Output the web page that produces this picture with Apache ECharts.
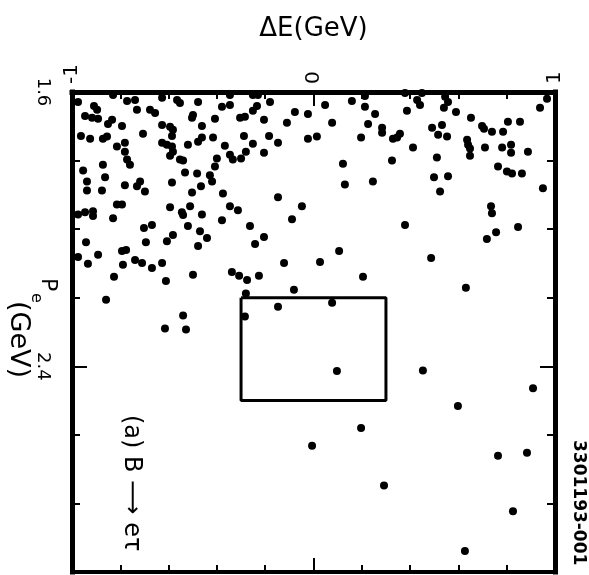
<!DOCTYPE html>
<html lang="en">
<head>
<meta charset="utf-8">
<style>
  html, body { margin: 0; height: 100%; background: #fff; }
  #container { width: 589px; height: 575px; }
</style>
</head>
<body>
<div id="container"></div>
<script src="https://cdn.jsdelivr.net/npm/echarts@6.0.0/dist/echarts.min.js"></script>
<script>
// axis ranges and labelled ticks
var deltaERange = [-1, 1];
var peRange = [1.6, 3.0];
var xTickLabels = ['-1', '0', '1'];
var yTickLabels = ['1.6', '2.4'];

// signal box corners [dE, Pe]
var signalBox = [[-0.3, 2.2], [0.3, 2.2], [0.3, 2.5], [-0.3, 2.5], [-0.3, 2.2]];

// candidate events [dE (GeV), Pe (GeV)]
var eventsLeft = [
  [-0.975, 1.629], [-0.909, 1.641], [-0.896, 1.652], [-0.772, 1.626], [-0.739, 1.623],
  [-0.731, 1.652], [-0.677, 1.652], [-0.656, 1.661], [-0.627, 1.617], [-0.565, 1.623],
  [-0.553, 1.632], [-0.478, 1.629], [-0.499, 1.667], [-0.503, 1.675], [-0.379, 1.643],
  [-0.346, 1.609], [-0.946, 1.670], [-0.917, 1.675], [-0.892, 1.678], [-0.834, 1.681],
  [-0.851, 1.693], [-0.793, 1.699], [-0.706, 1.722], [-0.627, 1.696], [-0.594, 1.701],
  [-0.582, 1.710], [-0.586, 1.728], [-0.462, 1.699], [-0.408, 1.678], [-0.963, 1.728],
  [-0.925, 1.736], [-0.872, 1.736], [-0.855, 1.730], [-0.814, 1.759], [-0.781, 1.748],
  [-0.781, 1.774], [-0.627, 1.748], [-0.607, 1.754], [-0.586, 1.759], [-0.582, 1.774],
  [-0.594, 1.786], [-0.553, 1.797], [-0.540, 1.800], [-0.520, 1.754], [-0.462, 1.733],
  [-0.478, 1.745], [-0.416, 1.733], [-0.367, 1.757], [-0.346, 1.783], [-0.334, 1.797],
  [-0.400, 1.794], [-0.772, 1.797], [-0.760, 1.812], [-0.872, 1.812], [-0.954, 1.829],
  [-0.863, 1.849], [-0.938, 1.861], [-0.938, 1.887], [-0.876, 1.887], [-0.781, 1.872],
  [-0.731, 1.875], [-0.718, 1.861], [-0.698, 1.890], [-0.586, 1.864], [-0.532, 1.835],
  [-0.482, 1.838], [-0.429, 1.843], [-0.420, 1.861], [-0.408, 1.817], [-0.466, 1.875],
  [-0.503, 1.893], [-0.375, 1.896], [-0.830, 1.609],
  [-0.814, 1.928], [-0.793, 1.928], [-0.913, 1.948], [-0.913, 1.962], [-0.975, 1.957],
  [-0.946, 1.951], [-0.830, 1.968], [-0.594, 1.936], [-0.511, 1.933], [-0.545, 1.951],
  [-0.540, 1.959], [-0.462, 1.957], [-0.346, 1.933], [-0.379, 1.974], [-0.702, 1.997],
  [-0.669, 1.988], [-0.520, 1.991], [-0.470, 2.006], [-0.582, 2.017], [-0.607, 2.035],
  [-0.441, 2.026], [-0.478, 2.049], [-0.694, 2.038], [-0.942, 2.038], [-0.975, 2.081],
  [-0.892, 2.075], [-0.934, 2.101], [-0.793, 2.064], [-0.776, 2.061], [-0.739, 2.090],
  [-0.710, 2.099], [-0.789, 2.104], [-0.669, 2.113], [-0.627, 2.099], [-0.826, 2.139],
  [-0.611, 2.151], [-0.499, 2.133], [-0.338, 2.125], [-0.859, 2.206],
  [-0.540, 2.252], [-0.615, 2.290], [-0.528, 2.293]
];
var eventsMiddle = [
  [-0.346, 1.638], [-0.251, 1.609], [-0.230, 1.609], [-0.180, 1.629], [-0.234, 1.641],
  [-0.251, 1.655], [-0.304, 1.675], [-0.284, 1.672], [-0.205, 1.681], [-0.077, 1.658],
  [-0.023, 1.664], [-0.110, 1.690], [0.048, 1.638], [0.077, 1.690], [0.159, 1.626],
  [0.213, 1.612], [0.213, 1.643], [0.255, 1.664], [0.226, 1.693], [0.284, 1.704],
  [0.284, 1.719], [0.197, 1.733], [0.329, 1.736], [-0.288, 1.728], [-0.184, 1.728],
  [-0.251, 1.751], [-0.147, 1.748], [-0.023, 1.736], [0.014, 1.730], [-0.280, 1.774],
  [-0.205, 1.777], [-0.300, 1.794], [0.122, 1.809], [0.325, 1.800], [0.130, 1.870],
  [0.246, 1.861],
  [-0.147, 1.907], [-0.313, 1.945], [-0.048, 1.933], [-0.089, 1.971], [-0.263, 1.991],
  [-0.205, 2.023], [-0.242, 2.043], [0.106, 2.064], [-0.122, 2.099], [0.027, 2.096],
  [-0.308, 2.136], [-0.275, 2.148], [-0.226, 2.136], [0.205, 2.139], [-0.081, 2.177],
  [-0.280, 2.188], [-0.284, 2.255], [0.077, 2.215], [-0.147, 2.226],
  [-0.006, 2.632], [0.097, 2.414], [0.197, 2.580], [0.292, 2.748]
];
var eventsRight = [
  [0.379, 1.603], [0.449, 1.603], [0.429, 1.623], [0.441, 1.638], [0.545, 1.614],
  [0.557, 1.629], [0.540, 1.646], [0.387, 1.655], [0.590, 1.658], [0.652, 1.675],
  [0.805, 1.687], [0.855, 1.687], [0.938, 1.646], [0.967, 1.620], [0.491, 1.704],
  [0.532, 1.696], [0.516, 1.725], [0.553, 1.730], [0.698, 1.699], [0.706, 1.707],
  [0.739, 1.716], [0.785, 1.716], [0.358, 1.722], [0.346, 1.733], [0.636, 1.739],
  [0.640, 1.754], [0.648, 1.765], [0.648, 1.786], [0.412, 1.762], [0.710, 1.762],
  [0.781, 1.762], [0.818, 1.754], [0.818, 1.777], [0.888, 1.774], [0.511, 1.791],
  [0.764, 1.817], [0.801, 1.832], [0.822, 1.838], [0.863, 1.838], [0.499, 1.849],
  [0.557, 1.846], [0.524, 1.890], [0.950, 1.881],
  [0.735, 1.933], [0.739, 1.954], [0.379, 1.988], [0.756, 2.009], [0.847, 1.994],
  [0.718, 2.029], [0.487, 2.084], [0.631, 2.171],
  [0.453, 2.412], [0.909, 2.464], [0.598, 2.516], [0.764, 2.661], [0.884, 2.652],
  [0.826, 2.823], [0.627, 2.939]
];

var FONT = 'DejaVu Sans';
var black = '#000';

function pickLabel(list) {
  return function (v) {
    for (var i = 0; i < list.length; i++) {
      if (Math.abs(v - parseFloat(list[i])) < 1e-6) return list[i];
    }
    return '';
  };
}

function xAx(pos, interval, lineW, tickLen, extra) {
  return Object.assign({
    type: 'value', position: pos, min: deltaERange[0], max: deltaERange[1], interval: interval,
    axisLine: { show: lineW > 0, onZero: false, lineStyle: { color: black, width: lineW, cap: 'square' } },
    axisTick: { show: true, inside: true, length: tickLen, lineStyle: { color: black, width: 2 } },
    axisLabel: { show: false },
    splitLine: { show: false }
  }, extra || {});
}
function yAx(pos, interval, lineW, tickLen, extra) {
  return Object.assign({
    type: 'value', position: pos, inverse: true, min: peRange[0], max: peRange[1], interval: interval,
    axisLine: { show: lineW > 0, onZero: false, lineStyle: { color: black, width: lineW, cap: 'square' } },
    axisTick: { show: true, inside: true, length: tickLen, lineStyle: { color: black, width: 2 } },
    axisLabel: { show: false },
    splitLine: { show: false }
  }, extra || {});
}

var chart = echarts.init(document.getElementById('container'), null, { renderer: 'canvas' });

var option = {
  backgroundColor: '#fff',
  animation: false,
  grid: { left: 72, right: 34, top: 92, bottom: 0, containLabel: false },
  xAxis: [
    xAx('top', 0.2, 5, 7, {
      name: 'ΔE(GeV)', nameLocation: 'middle', nameGap: 50,
      nameTextStyle: { fontFamily: FONT, fontSize: 26, color: black }
    }),
    xAx('bottom', 0.2, 4, 7),
    xAx('top', 1, 0, 14, {
      axisLabel: {
        show: true, rotate: -90, margin: 8, fontFamily: FONT, fontSize: 20, color: black,
        formatter: pickLabel(xTickLabels)
      }
    }),
    xAx('bottom', 1, 0, 14)
  ],
  yAxis: [
    yAx('left', 0.2, 5, 8),
    yAx('right', 0.2, 5, 8),
    yAx('left', 0.8, 0, 15, {
      axisLabel: {
        show: true, rotate: -90, margin: 20, fontFamily: FONT, fontSize: 18, color: black,
        formatter: pickLabel(yTickLabels)
      }
    }),
    yAx('right', 0.8, 0, 15)
  ],
  series: [
    {
      type: 'scatter', xAxisIndex: 0, yAxisIndex: 0,
      data: eventsLeft.concat(eventsMiddle, eventsRight),
      symbol: 'circle', symbolSize: 8,
      itemStyle: { color: black, opacity: 1 }
    },
    {
      type: 'line', xAxisIndex: 0, yAxisIndex: 0,
      data: signalBox, symbol: 'none',
      lineStyle: { color: black, width: 3 }
    }
  ],
  graphic: [
    { type: 'text', x: 48, y: 278, rotation: -Math.PI / 2,
      style: { text: 'P', font: '22px "DejaVu Sans"', fill: black, align: 'left', verticalAlign: 'middle' } },
    { type: 'text', x: 36, y: 293, rotation: -Math.PI / 2,
      style: { text: 'e', font: '16px "DejaVu Sans"', fill: black, align: 'left', verticalAlign: 'middle' } },
    { type: 'text', x: 18, y: 301, rotation: -Math.PI / 2,
      style: { text: '(GeV)', font: '27px "DejaVu Sans"', fill: black, align: 'left', verticalAlign: 'middle' } },
    { type: 'text', x: 131, y: 415, rotation: -Math.PI / 2,
      style: { text: '(a) B ⟶ eτ', font: '24px "DejaVu Sans"', fill: black, align: 'left', verticalAlign: 'middle' } },
    { type: 'text', x: 578, y: 440, rotation: -Math.PI / 2,
      style: { text: '3301193-001', font: 'bold 17px "DejaVu Sans"', fill: black, align: 'left', verticalAlign: 'middle' } }
  ]
};

chart.setOption(option);
window.addEventListener('resize', chart.resize);
</script>
</body>
</html>
